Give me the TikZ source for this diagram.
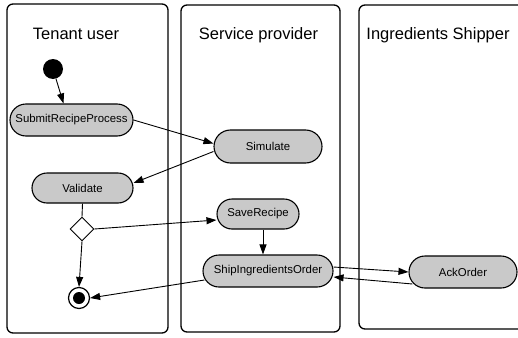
\documentclass[tikz,border=0pt]{standalone}
\usepackage{fontspec}
\setmainfont{Liberation Sans}
\usepackage{tikz}
\usepgflibrary{shapes}
\usetikzlibrary{arrows.meta}

\tikzset{
  lane/.style={draw, line width=1.3pt, rounded corners=6pt, inner sep=0pt},
  title/.style={anchor=base, font=\fontsize{16.5}{19}\selectfont},
  act/.style={rounded rectangle, draw, line width=1.1pt, fill=black!21, inner sep=0pt, minimum height=32pt, font=\fontsize{11.4}{13}\selectfont},
  flow/.style={-{Triangle[length=10pt,width=7pt]}, line width=0.9pt}
}

\begin{document}
\begin{tikzpicture}[x=1pt,y=-1pt] % 3 lanes
      \clip (0,0) rectangle (518,337);
      \node[name=tenant, lane, minimum width=161pt, minimum height=329pt] at (87.5,168.5){};
      \node[name=provider, lane, minimum width=159pt, minimum height=327pt] at (260.5,168.5){};
      \node[name=shipper, lane, minimum width=181pt, minimum height=324pt] at (449.5,167){};
      \node[title] at (76,40){Tenant user};
      \node[title] at (258.5,40){Service provider};
      \node[title] at (438,40){Ingredients Shipper};
      \node[name=start, circle, fill=black, inner sep=0pt, minimum size=20pt] at (53,69){};
      \node[name=submit, act, minimum width=123pt] at (71.5,120){SubmitRecipeProcess};
      \node[name=simulate, act, minimum width=108pt, minimum height=33pt] at (268,146.5){Simulate};
      \node[name=validate, act, minimum width=101pt, minimum height=30pt] at (82.5,188){Validate};
      \node[name=dia, diamond, draw, line width=0.9pt, fill=white, inner sep=0pt, minimum size=24pt] at (82,229){};
      \node[name=save, act, minimum width=82pt, minimum height=30pt] at (258,214){SaveRecipe};
      \node[name=ship, act, minimum width=130pt] at (268,271){ShipIngredientsOrder};
      \node[name=ack, act, minimum width=108pt] at (463,272){AckOrder};
      \node[name=final, circle, draw, line width=1.2pt, fill=white, inner sep=0pt, minimum size=21pt] at (79,298){};
      \fill (final) circle (6pt);
      \draw[flow] (start) -- ([xshift=-8pt]submit.north);
      \draw[flow] (submit.east) -- ([yshift=3pt]simulate.west);
      \draw[flow] ([yshift=-5pt]simulate.west) -- ([yshift=5pt]validate.east);
      \draw[line width=0.9pt] (validate.south) -- (dia.north);
      \draw[flow] (dia.east) -- ([yshift=-6pt]save.west);
      \draw[flow] (dia.south) -- (final.north);
      \draw[flow] ([xshift=5pt]save.south) -- ([xshift=-5pt]ship.north);
      \draw[flow] ([yshift=4pt]ship.east) -- (ack.west);
      \draw[flow] ([xshift=4pt,yshift=-12pt]ack.west) -- ([yshift=-6pt]ship.east);
      \draw[flow] ([xshift=2pt,yshift=-9pt]ship.west) -- (final.east);
   \end{tikzpicture}
\end{document}
